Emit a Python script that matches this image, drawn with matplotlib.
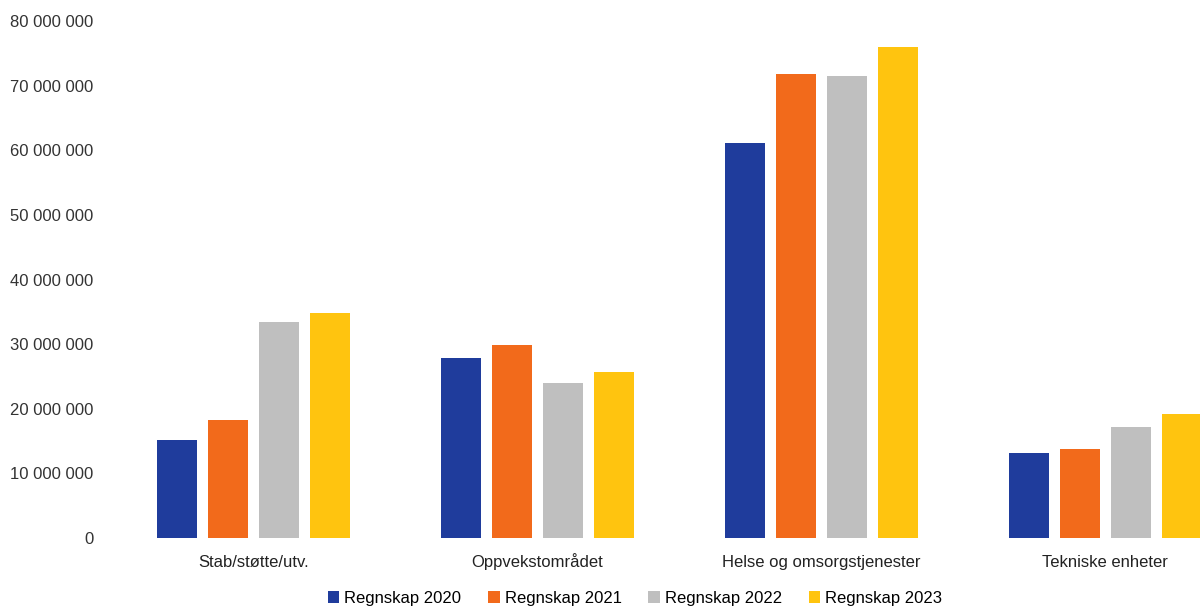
import matplotlib.pyplot as plt
import numpy as np

plt.rcParams['font.family'] = ['Liberation Sans', 'DejaVu Sans']

kategorier = ['Stab/støtte/utv.', 'Oppvekstområdet', 'Helse og omsorgstjenester', 'Tekniske enheter']
serier = ['Regnskap 2020', 'Regnskap 2021', 'Regnskap 2022', 'Regnskap 2023']
regnskap_2020 = [15.2e6, 27.9e6, 61.1e6, 13.2e6]
regnskap_2021 = [18.3e6, 29.9e6, 71.8e6, 13.8e6]
regnskap_2022 = [33.4e6, 24.0e6, 71.5e6, 17.2e6]
regnskap_2023 = [34.8e6, 25.7e6, 75.9e6, 19.2e6]
farger = ['#1f3c9c', '#f26a1b', '#bfbfbf', '#ffc40f']

verdier = [regnskap_2020, regnskap_2021, regnskap_2022, regnskap_2023]

fig = plt.figure(figsize=(12, 6.12), dpi=100)
ax = fig.add_axes([110 / 1200, 74 / 612, 1090 / 1200, 517 / 612])

x = np.arange(len(kategorier))
bredde = 40 / 284
steg = 51 / 284
for i, (navn, vals) in enumerate(zip(serier, verdier)):
    ax.bar(x + (i - 1.5) * steg, vals, width=bredde, color=farger[i], label=navn)

ax.set_xlim(-0.505, 3.333)
ax.set_ylim(0, 80e6)
ax.set_yticks(np.arange(0, 80e6 + 1, 10e6))
ax.set_yticklabels([f'{int(v):,}'.replace(',', ' ') for v in np.arange(0, 80e6 + 1, 10e6)])
ax.set_xticks(x)
ax.set_xticklabels(kategorier, va='baseline')
ax.tick_params(axis='y', length=0, pad=12, labelsize=12, labelcolor='#333333')
ax.tick_params(axis='x', length=0, pad=21, labelsize=12, labelcolor='#222222')
for s in ax.spines.values():
    s.set_visible(False)

fig.legend(loc='center', bbox_to_anchor=(635 / 1200, 1 - 598 / 612), ncol=4, frameon=False,
           fontsize=12, handlelength=0.7, handleheight=0.7, handletextpad=0.3, columnspacing=1.6)

fig.savefig('out.png', dpi=100)
